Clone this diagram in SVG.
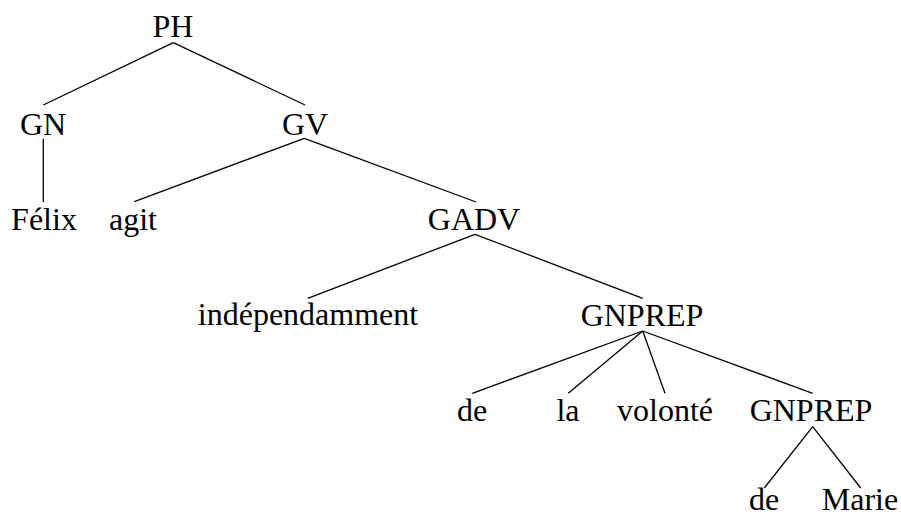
<svg xmlns="http://www.w3.org/2000/svg" width="901" height="518" viewBox="0 0 901 518">
<style>
text{font-family:"Liberation Serif","DejaVu Serif",serif;font-size:32px;fill:#000;text-anchor:middle}
line{stroke:#000;stroke-width:1.3}
</style>
<rect width="901" height="518" fill="#fff"/>
<g id="connectors">
<line x1="173.3" y1="42.7" x2="43.3" y2="105"/>
<line x1="173.3" y1="42.7" x2="305" y2="105"/>
<line x1="43.3" y1="138.7" x2="43.3" y2="202"/>
<line x1="304.3" y1="138.3" x2="134.3" y2="201.7"/>
<line x1="304.3" y1="138.3" x2="476" y2="202"/>
<line x1="475" y1="234.3" x2="307.7" y2="298.3"/>
<line x1="475" y1="234.3" x2="642.7" y2="298.3"/>
<line x1="642.7" y1="331" x2="472.3" y2="393.3"/>
<line x1="642.7" y1="331" x2="568.3" y2="393.3"/>
<line x1="642.7" y1="331" x2="665" y2="393.3"/>
<line x1="642.7" y1="331" x2="812.7" y2="393.3"/>
<line x1="812.7" y1="426.7" x2="764.3" y2="488"/>
<line x1="812.7" y1="426.7" x2="860.7" y2="488"/>
</g>
<g id="n-PH"><text x="173" y="37">PH</text></g>
<g id="n-GN"><text x="43" y="135">GN</text></g>
<g id="n-GV"><text x="305" y="135">GV</text></g>
<g id="n-Felix"><text x="44" y="230">Félix</text></g>
<g id="n-agit"><text x="133" y="230">agit</text></g>
<g id="n-GADV"><text x="474" y="230">GADV</text></g>
<g id="n-independamment"><text x="308" y="325">indépendamment</text></g>
<g id="n-GNPREP1"><text x="642" y="326">GNPREP</text></g>
<g id="n-de1"><text x="472" y="421">de</text></g>
<g id="n-la"><text x="568" y="421">la</text></g>
<g id="n-volonte"><text x="665" y="421">volonté</text></g>
<g id="n-GNPREP2"><text x="811" y="421">GNPREP</text></g>
<g id="n-de2"><text x="764" y="510">de</text></g>
<g id="n-Marie"><text x="860" y="510">Marie</text></g>
</svg>
